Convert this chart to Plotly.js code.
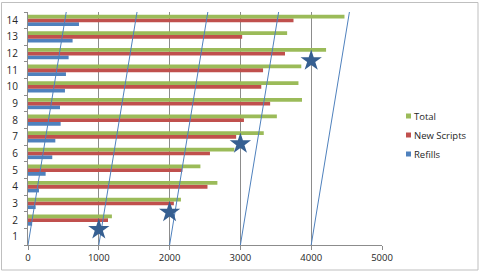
<!DOCTYPE html>
<html>
<head>
<meta charset="utf-8">
<script src="https://cdn.plot.ly/plotly-3.0.1.min.js"></script>
<style>html,body{margin:0;padding:0;background:#fff;}#chart{width:480px;height:272px;}</style>
</head>
<body>
<div id="chart"></div>
<script>
// ---- data ----
const categories = [1, 2, 3, 4, 5, 6, 7, 8, 9, 10, 11, 12, 13, 14];
const totalValues = [0, 1185, 2160, 2675, 2435, 2915, 3330, 3515, 3870, 3820, 3860, 4210, 3660, 4470];
const newScriptsValues = [0, 1130, 2060, 2535, 2180, 2570, 2940, 3050, 3420, 3295, 3320, 3630, 3025, 3750];
const refillsValues = [0, 58, 108, 155, 249, 343, 386, 461, 452, 522, 536, 574, 630, 720];
const seriesNames = ["Total", "New Scripts", "Refills"];
const xTickValues = [0, 1000, 2000, 3000, 4000, 5000];
const yTickValues = [1, 2, 3, 4, 5, 6, 7, 8, 9, 10, 11, 12, 13, 14];
// slanted reference lines: start x at bottom, end x at top
const slantStartX = [0, 1000, 2000, 3000, 4000];
const slantEndX = [540, 1540, 2540, 3540, 4540];
const slantY = [0.5, 14.5];
// star markers
const starX = [1000, 2000, 3000, 4000];
const starY = [1.43, 2.47, 6.58, 11.58];

const colors = {Total: "#9BBB59", "New Scripts": "#C0504D", Refills: "#4F81BD"};
const font = "Open Sans, Liberation Sans, sans-serif";

const traces = [];
// order: Refills first (bottom of group), Total last (top of group)
traces.push({type: "bar", orientation: "h", name: "Refills", y: categories, x: refillsValues,
  marker: {color: colors.Refills}, showlegend: false, hoverinfo: "skip"});
traces.push({type: "bar", orientation: "h", name: "New Scripts", y: categories, x: newScriptsValues,
  marker: {color: colors["New Scripts"]}, showlegend: false, hoverinfo: "skip"});
traces.push({type: "bar", orientation: "h", name: "Total", y: categories, x: totalValues,
  marker: {color: colors.Total}, showlegend: false, hoverinfo: "skip"});

for (let i = 0; i < slantStartX.length; i++) {
  traces.push({type: "scatter", mode: "lines", x: [slantStartX[i], slantEndX[i]], y: slantY,
    line: {color: "#4F81BD", width: 1}, showlegend: false, hoverinfo: "skip", cliponaxis: false});
}
traces.push({type: "scatter", mode: "markers", x: starX, y: starY,
  marker: {symbol: "star", size: 16, color: "#365F91", line: {width: 0}},
  showlegend: false, hoverinfo: "skip", cliponaxis: false});

// custom legend (squares + text) in paper coordinates
const plotL = 28, plotR = 98, plotT = 12, plotB = 27, W = 480, H = 272;
const pw = W - plotL - plotR, ph = H - plotT - plotB;
const px = v => (v - plotL) / pw;
const py = v => (H - plotB - v) / ph;

const shapes = [{type: "rect", xref: "paper", yref: "paper",
  x0: px(1.5), x1: px(478), y0: py(270), y1: py(2.5),
  line: {color: "#BFBFBF", width: 1}, fillcolor: "rgba(0,0,0,0)", layer: "below"}];
const annotations = [];
const legendRowsY = [116, 135, 154];
seriesNames.forEach((n, i) => {
  const cy = legendRowsY[i];
  shapes.push({type: "rect", xref: "paper", yref: "paper",
    x0: px(406), x1: px(411), y0: py(cy + 2.5), y1: py(cy - 2.5),
    line: {width: 0}, fillcolor: colors[n]});
  annotations.push({xref: "paper", yref: "paper", x: px(411.5), y: py(cy), text: n,
    showarrow: false, xanchor: "left", yanchor: "middle",
    font: {family: font, size: 9.5, color: "#262626"}});
});

const layout = {
  width: W, height: H,
  margin: {l: plotL, r: plotR, t: plotT, b: plotB, pad: 0},
  paper_bgcolor: "#ffffff", plot_bgcolor: "#ffffff",
  barmode: "group", bargap: 0.32, bargroupgap: 0,
  showlegend: false,
  font: {family: font, size: 9.5, color: "#262626"},
  xaxis: {range: [0, 5000], tickvals: xTickValues, ticktext: xTickValues.map(String),
    showgrid: true, gridcolor: "#8C8C8C", gridwidth: 1, zeroline: false,
    showline: true, linecolor: "#8C8C8C", linewidth: 1,
    ticks: "outside", ticklen: 4, tickcolor: "#8C8C8C",
    tickfont: {family: font, size: 9.5, color: "#262626"}, fixedrange: true},
  yaxis: {range: [0.5, 14.5], tickvals: yTickValues, ticktext: yTickValues.map(String),
    showgrid: false, zeroline: false, showline: true, linecolor: "#8C8C8C", linewidth: 1,
    ticks: "", ticklabelstandoff: 7,
    minor: {tick0: 0.5, dtick: 1, ticks: "outside", ticklen: 3, tickcolor: "#8C8C8C", showgrid: false},
    tickfont: {family: font, size: 10, color: "#262626"}, fixedrange: true},
  shapes: shapes,
  annotations: annotations
};

Plotly.newPlot("chart", traces, layout, {staticPlot: true, displayModeBar: false});
</script>
</body>
</html>
